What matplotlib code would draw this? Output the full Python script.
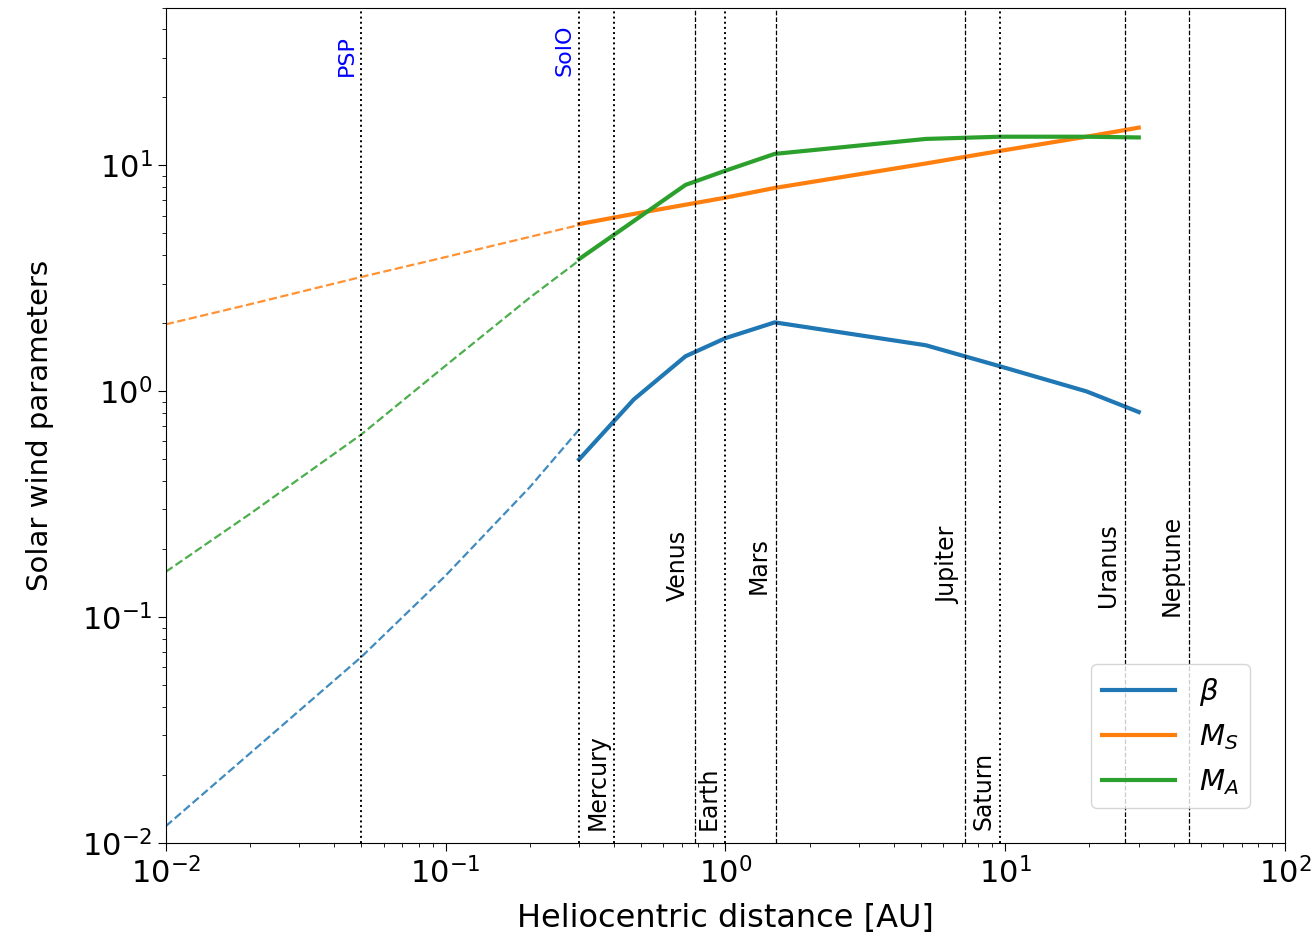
import matplotlib
matplotlib.use("Agg")
import matplotlib.pyplot as plt

# solid part (observations / model range)
r_obs = [0.3, 0.47, 0.72, 1.0, 1.5, 5.2, 9.6, 19.5, 30]
beta_obs = [0.50, 0.92, 1.43, 1.72, 2.02, 1.60, 1.29, 1.00, 0.81]
ms_obs = [5.5, 6.1, 6.7, 7.2, 7.95, 10.2, 11.6, 13.4, 14.7]
ma_obs = [3.85, 5.67, 8.2, 9.48, 11.25, 13.1, 13.4, 13.4, 13.3]

# dashed extrapolation towards the Sun
r_ext = [0.01, 0.02, 0.05, 0.1, 0.2, 0.3]
beta_ext = [0.0119, 0.025, 0.0668, 0.153, 0.377, 0.678]
ms_ext = [1.98, 2.43, 3.21, 3.93, 4.83, 5.45]
ma_ext = [0.159, 0.287, 0.645, 1.3, 2.6, 3.8]

# reference distances [AU]
spacecraft = ["PSP", "SolO"]
spacecraft_r = [0.05, 0.3]
planets = ["Mercury", "Venus", "Earth", "Mars", "Jupiter", "Saturn", "Uranus", "Neptune"]
planets_r = [0.4, 0.78, 1.0, 1.51, 7.2, 9.6, 26.8, 45.2]
planets_style = [":", "--", ":", "--", "--", ":", "--", "--"]
planets_low = [True, False, True, False, False, True, False, False]

fig, ax = plt.subplots(figsize=(13.16, 9.39), dpi=100)
fig.subplots_adjust(left=0.126, right=0.9765, bottom=0.102, top=0.992)

colors = ["#1f77b4", "#ff7f0e", "#2ca02c"]
labels = [r"$\beta$", r"$M_S$", r"$M_A$"]
for yo, ye, c, lab in zip([beta_obs, ms_obs, ma_obs], [beta_ext, ms_ext, ma_ext], colors, labels):
    ax.plot(r_obs, yo, color=c, lw=3, label=lab)
    ax.plot(r_ext, ye, color=c, lw=1.6, ls="--", alpha=0.85)

for name, r in zip(spacecraft, spacecraft_r):
    ax.axvline(r, color="k", ls=":", lw=1.4)
    ax.text(r * 0.96, 25, name, rotation=90, ha="right", va="bottom", color="blue", fontsize=16)

for name, r, st, low in zip(planets, planets_r, planets_style, planets_low):
    if st == ":":
        ax.axvline(r, color="k", ls=":", lw=1.4)
    else:
        ax.axvline(r, color="k", ls="--", lw=0.9)
    if low:
        ax.text(r * 0.96, 0.0115, name, rotation=90, ha="right", va="bottom", fontsize=17)
    else:
        ax.text(r * 0.96, 0.17, name, rotation=90, ha="right", va="center", fontsize=17)

ax.set_xscale("log")
ax.set_yscale("log")
ax.set_xlim(1e-2, 1e2)
ax.set_ylim(1e-2, 50)
ax.set_xlabel("Heliocentric distance [AU]", fontsize=23, labelpad=10)
ax.set_ylabel("Solar wind parameters", fontsize=21, labelpad=20)
ax.tick_params(axis="both", which="major", labelsize=22, length=6)
ax.tick_params(axis="both", which="minor", length=3)

ax.legend(loc="lower right", fontsize=21, handlelength=2.5, borderaxespad=1.2)

plt.savefig("out.png")
